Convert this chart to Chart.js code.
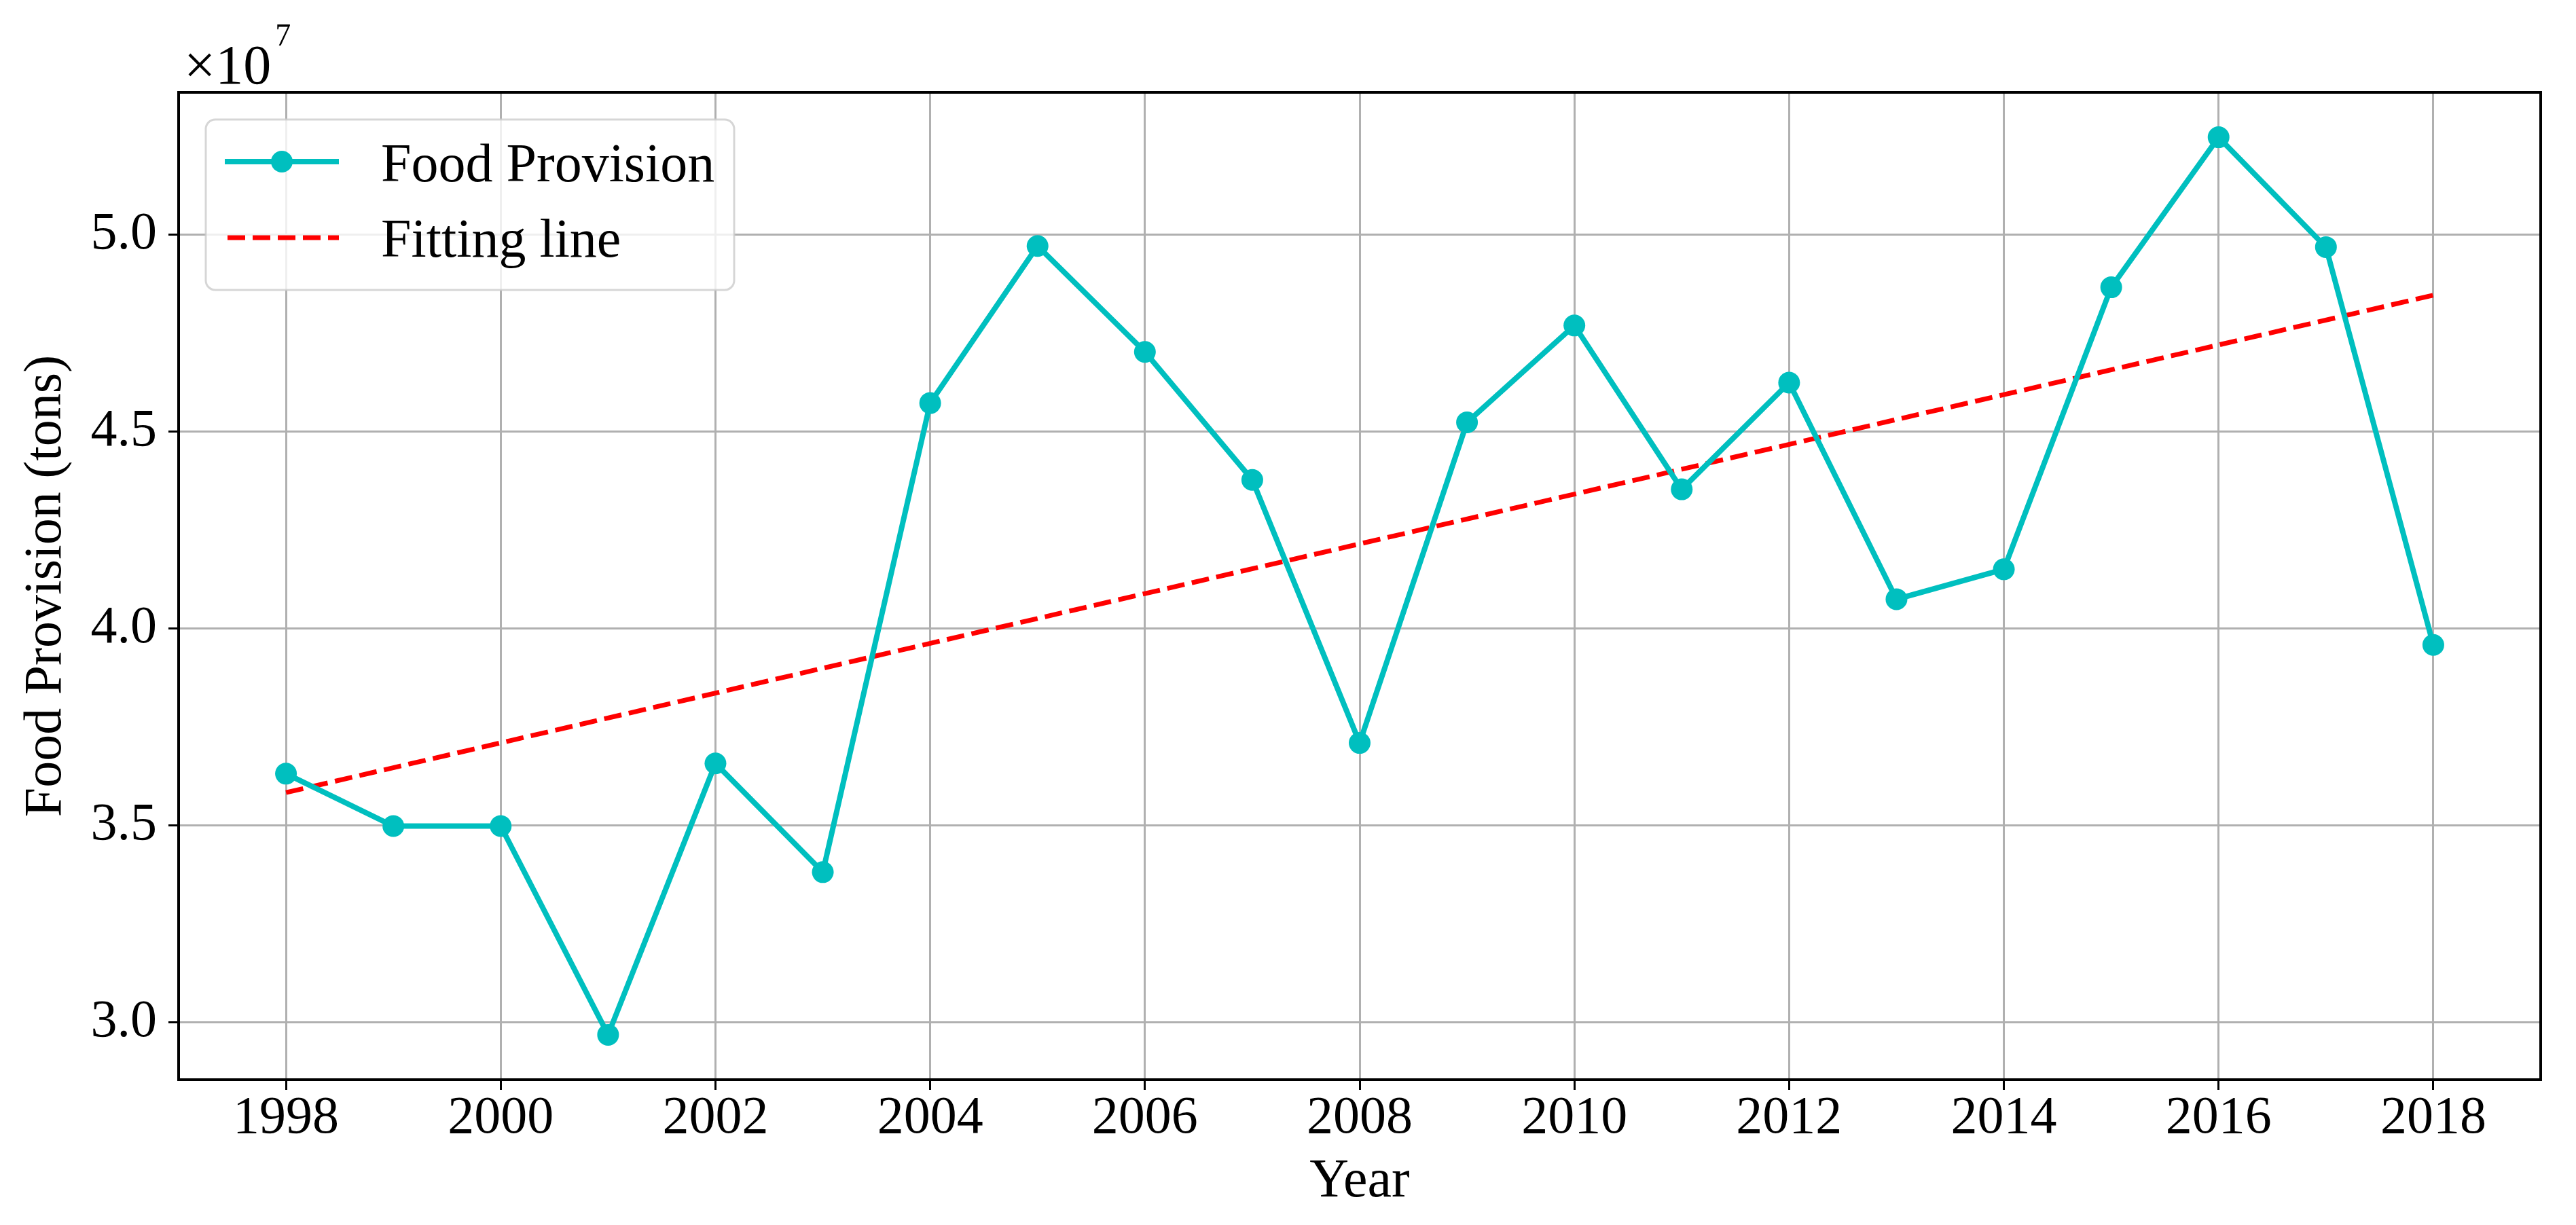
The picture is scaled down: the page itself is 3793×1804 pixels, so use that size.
<!doctype html>
<html>
<head>
<meta charset="utf-8">
<title>Food Provision</title>
<script src="https://cdn.jsdelivr.net/npm/chart.js@4"></script>
<style>
  html, body { margin:0; padding:0; background:#fff; }
  #wrap { width:3793px; height:1804px; }
</style>
</head>
<body>
<div id="wrap"><canvas id="fp" width="3793" height="1804"></canvas></div>
<script>
// data (tons)
const years = [1998, 1999, 2000, 2001, 2002, 2003, 2004, 2005, 2006, 2007, 2008,
               2009, 2010, 2011, 2012, 2013, 2014, 2015, 2016, 2017, 2018];
const foodProvision = [36310000, 34980000, 34980000, 29680000, 36570000, 33810000,
                       45720000, 49710000, 47020000, 43770000, 37090000, 45230000,
                       47690000, 43530000, 46240000, 40740000, 41500000, 48660000,
                       52470000, 49680000, 39580000];
const fitYears = [1998, 2018];
const fitValues = [35830000, 48460000];

const xTicks = [1998, 2000, 2002, 2004, 2006, 2008, 2010, 2012, 2014, 2016, 2018];
const yTicks = [30000000, 35000000, 40000000, 45000000, 50000000];
const xRange = [1997, 2019];
const yRange = [28540000, 53610000];

const SERIF = '"Liberation Serif", "Times New Roman", serif';
const CYAN = '#00bfbf';
const RED = '#ff0000';

// Rahmen, Exponent und Legende wie bei matplotlib
const decor = {
  id: 'decor',
  afterDatasetsDraw(chart) {
    const { ctx, chartArea: a } = chart;
    ctx.save();
    ctx.strokeStyle = '#000';
    ctx.lineWidth = 4;
    ctx.strokeRect(a.left, a.top, a.right - a.left, a.bottom - a.top);
    ctx.restore();
  },
  afterDraw(chart) {
    const { ctx, chartArea: a } = chart;
    const ds = chart.data.datasets;
    ctx.save();

    // x10^7 above the y axis
    ctx.fillStyle = '#000';
    ctx.textBaseline = 'alphabetic';
    ctx.font = '82px ' + SERIF;
    const baseX = a.left + 8;
    ctx.fillText('\u00d710', baseX, 123);
    const w = ctx.measureText('\u00d710').width;
    ctx.font = '46px ' + SERIF;
    ctx.fillText('7', baseX + w + 6, 67);

    // legend box
    const bx = a.left + 40, by = 176, bw = 778, bh = 251, r = 14;
    ctx.beginPath();
    ctx.moveTo(bx + r, by);
    ctx.arcTo(bx + bw, by, bx + bw, by + bh, r);
    ctx.arcTo(bx + bw, by + bh, bx, by + bh, r);
    ctx.arcTo(bx, by + bh, bx, by, r);
    ctx.arcTo(bx, by, bx + bw, by, r);
    ctx.closePath();
    ctx.fillStyle = 'rgba(255,255,255,0.8)';
    ctx.fill();
    ctx.strokeStyle = 'rgba(204,204,204,0.8)';
    ctx.lineWidth = 3;
    ctx.stroke();

    const lx0 = bx + 28, lx1 = bx + 196, tx = bx + 258;
    // item 1: line with marker
    ctx.strokeStyle = ds[0].borderColor;
    ctx.lineWidth = ds[0].borderWidth;
    ctx.beginPath(); ctx.moveTo(lx0, 238); ctx.lineTo(lx1, 238); ctx.stroke();
    ctx.fillStyle = ds[0].pointBackgroundColor;
    ctx.beginPath(); ctx.arc((lx0 + lx1) / 2, 238, ds[0].pointRadius, 0, Math.PI * 2); ctx.fill();
    // item 2: dashed line
    ctx.strokeStyle = ds[1].borderColor;
    ctx.lineWidth = ds[1].borderWidth;
    ctx.setLineDash(ds[1].borderDash);
    ctx.beginPath(); ctx.moveTo(lx0 + 4, 350); ctx.lineTo(lx1, 350); ctx.stroke();
    ctx.setLineDash([]);

    ctx.fillStyle = '#000';
    ctx.font = '80px ' + SERIF;
    ctx.fillText(ds[0].label, tx, 267);
    ctx.fillText(ds[1].label, tx, 378);
    ctx.restore();
  }
};

new Chart(document.getElementById('fp').getContext('2d'), {
  type: 'line',
  data: {
    datasets: [
      {
        label: 'Food Provision',
        data: years.map((y, i) => ({ x: y, y: foodProvision[i] })),
        borderColor: CYAN, borderWidth: 8,
        pointRadius: 16, pointBackgroundColor: CYAN, pointBorderWidth: 0,
        tension: 0
      },
      {
        label: 'Fitting line',
        data: fitYears.map((y, i) => ({ x: y, y: fitValues[i] })),
        borderColor: RED, borderWidth: 7, borderDash: [26, 11],
        pointRadius: 0, tension: 0
      }
    ]
  },
  options: {
    responsive: false,
    animation: false,
    layout: { padding: { left: 0, top: 136, right: 52, bottom: 0 }, autoPadding: false },
    plugins: { legend: { display: false }, tooltip: { enabled: false } },
    scales: {
      x: {
        type: 'linear', min: xRange[0], max: xRange[1],
        afterBuildTicks: s => { s.ticks = xTicks.map(v => ({ value: v })); },
        afterFit: s => { s.height = 214; },
        grid: { color: '#b0b0b0', lineWidth: 3, tickColor: '#000', tickLength: 15, tickWidth: 3 },
        border: { display: false },
        ticks: {
          font: { family: SERIF, size: 78, lineHeight: 1 }, color: '#000',
          padding: 4, maxRotation: 0, autoSkip: false, callback: v => String(v)
        },
        title: {
          display: true, text: 'Year', color: '#000',
          font: { family: SERIF, size: 80 }, padding: { top: 0, bottom: 15 }
        }
      },
      y: {
        type: 'linear', min: yRange[0], max: yRange[1],
        afterBuildTicks: s => { s.ticks = yTicks.map(v => ({ value: v })); },
        afterFit: s => { s.width = 263; },
        grid: { color: '#b0b0b0', lineWidth: 3, tickColor: '#000', tickLength: 15, tickWidth: 3 },
        border: { display: false },
        ticks: {
          font: { family: SERIF, size: 78 }, color: '#000',
          padding: 17, autoSkip: false, callback: v => (v / 1e7).toFixed(1)
        },
        title: {
          display: true, text: 'Food Provision (tons)', color: '#000',
          font: { family: SERIF, size: 78 }, padding: { top: 22, bottom: 0 }
        }
      }
    }
  },
  plugins: [decor]
});
</script>
</body>
</html>
